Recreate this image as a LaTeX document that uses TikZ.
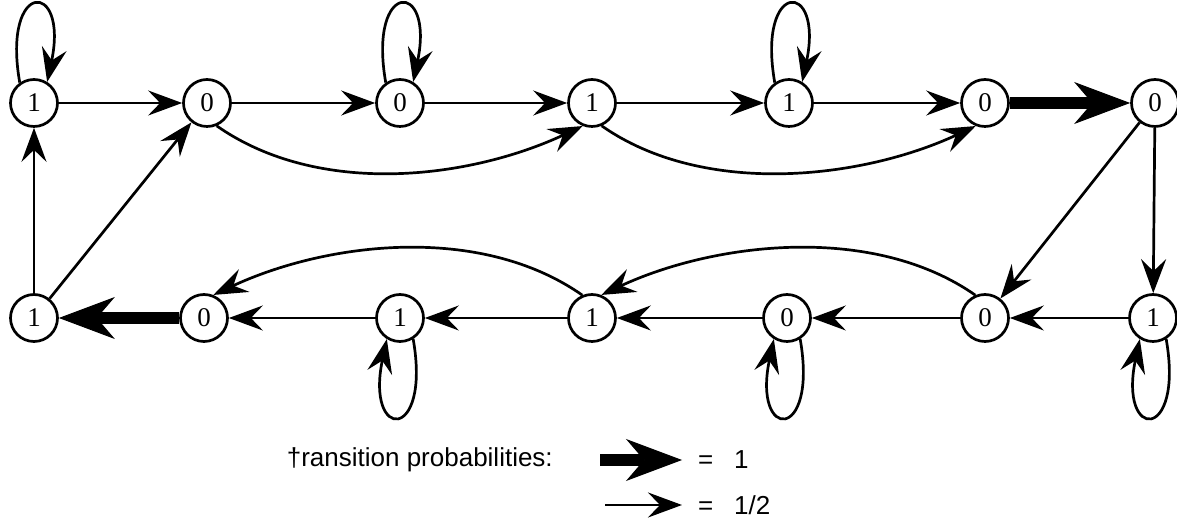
\documentclass[tikz,border=0pt]{standalone}
\usepackage{fontspec}
\setmainfont{Liberation Serif}
\newfontfamily\legendfont{Liberation Sans}
\usetikzlibrary{arrows.meta}
\tikzset{
  st/.style={circle, draw, line width=2.7pt, minimum size=47pt, inner sep=0pt, font=\fontsize{27}{27}\selectfont},
  arr/.style={line width=2.7pt, -{Stealth[length=34pt,width=25pt,inset=12pt]}},
  heavyarr/.style={line width=12pt, -{Stealth[length=56pt,width=42pt,inset=18pt,line width=1pt]}},
  legtext/.style={font=\legendfont\fontsize{26}{26}\selectfont, inner sep=0pt},
}
\begin{document}
\begin{tikzpicture}[x=1pt,y=1pt]
\useasboundingbox (0,0) rectangle (1177,529);
% top row
\node[st] (t1) at (34,426) {1};
\node[st] (t2) at (207,426) {0};
\node[st] (t3) at (400,426) {0};
\node[st] (t4) at (592,426) {1};
\node[st] (t5) at (789,426) {1};
\node[st] (t6) at (985,426) {0};
\node[st] (t7) at (1155,426) {0};
% bottom row
\node[st] (b1) at (34,211) {1};
\node[st] (b2) at (204,211) {0};
\node[st] (b3) at (400,211) {1};
\node[st] (b4) at (592,211) {1};
\node[st] (b5) at (787,211) {0};
\node[st] (b6) at (985,211) {0};
\node[st] (b7) at (1153,211) {1};
% top straight edges
\draw[arr] (t1) -- (t2);
\draw[arr] (t2) -- (t3);
\draw[arr] (t3) -- (t4);
\draw[arr] (t4) -- (t5);
\draw[arr] (t5) -- (t6);
\draw[heavyarr] (t6) -- (t7);
% top curves
\draw[arr] (t2.-67) to[out=-35,in=-155,distance=125pt] (t4.-112);
\draw[arr] (t4.-67) to[out=-35,in=-155,distance=125pt] (t6.-112);
% right side
\draw[arr] (t7) -- (b7);
\draw[arr] (t7) -- (b6);
% bottom straight edges
\draw[arr] (b7) -- (b6);
\draw[arr] (b6) -- (b5);
\draw[arr] (b5) -- (b4);
\draw[arr] (b4) -- (b3);
\draw[arr] (b3) -- (b2);
\draw[heavyarr] (b2) -- (b1);
% bottom curves
\draw[arr] (b6.113) to[out=145,in=25,distance=125pt] (b4.68);
\draw[arr] (b4.113) to[out=145,in=25,distance=125pt] (b2.68);
% left side
\draw[arr] (b1) -- (t1);
\draw[arr] (b1) -- (t2);
% self loops
\draw[arr] (t1.125) to[out=100,in=78,distance=105pt] (t1.58);
\draw[arr] (t3.125) to[out=100,in=78,distance=105pt] (t3.58);
\draw[arr] (t5.125) to[out=100,in=78,distance=105pt] (t5.58);
\draw[arr] (b3.-58) to[out=-80,in=-102,distance=105pt] (b3.-122);
\draw[arr] (b5.-58) to[out=-80,in=-102,distance=105pt] (b5.-122);
\draw[arr] (b7.-58) to[out=-80,in=-102,distance=105pt] (b7.-122);
% legend
\node[legtext, anchor=east] (lg) at (553,69) {†ransition probabilities:};
\coordinate (la1) at (600,69);
\coordinate (la2) at (682,69);
\draw[heavyarr] (la1) -- (la2);
\node[legtext, anchor=west] (l1) at (698,69) {=\hspace{0.8em}1};
\coordinate (lb1) at (605,24);
\coordinate (lb2) at (682,24);
\draw[arr] (lb1) -- (lb2);
\node[legtext, anchor=west] (l2) at (698,24) {=\hspace{0.8em}1/2};
\end{tikzpicture}
\end{document}
